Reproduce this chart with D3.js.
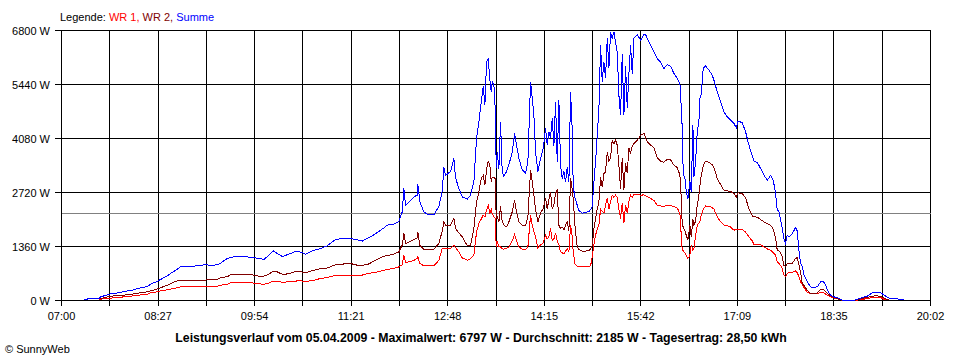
<!DOCTYPE html>
<html>
<head>
<meta charset="utf-8">
<script src="https://cdn.jsdelivr.net/npm/d3@7"></script>
<style>
  html, body { margin: 0; padding: 0; background: #ffffff; }
  svg { display: block; }
  text { font-family: "Liberation Sans", Arial, sans-serif; }
</style>
</head>
<body>
<div id="chart"></div>
<script>
// ---- Data (time in minutes since midnight, power in W) ----
const times = [439.8,454.2,455.1,464.1,470.4,477.6,482.1,491.1,497.1,500.1,506.1,509.1,515.1,518.1,522.6,527.1,533.1,538.8,547.8,556.8,560.1,563.1,569.1,572.1,575.1,587.1,591.6,597.6,602.1,606.6,610.5,614.1,618.6,624.6,630.6,635.1,639.6,645.6,653.1,659.1,666.6,674.1,680.1,686.1,690.6,695.1,701.1,710.1,713.1,719.1,723.6,726.6,728.1,729.6,732.6,737.1,740.1,740.7,742.5,746.1,749.1,755.1,759.6,762.6,764.1,765.6,770.1,773.1,774.6,777.6,780.6,785.1,788.1,791.1,793.5,795.6,797.7,799.5,801.0,802.5,804.0,805.5,806.7,807.6,809.1,810.3,811.2,812.1,813.6,815.1,816.6,818.1,820.5,822.6,825.6,827.7,829.5,831.6,834.6,837.6,839.7,842.1,843.6,845.1,846.6,848.7,851.1,853.5,855.6,857.1,858.6,860.1,861.6,863.1,864.6,866.1,867.6,869.1,870.6,872.1,873.6,875.1,876.6,878.1,879.6,880.5,882.0,882.6,884.1,885.6,888.6,891.6,894.6,896.1,897.6,899.1,900.6,902.1,903.6,905.1,906.6,908.1,909.6,911.1,912.6,914.1,915.6,917.1,918.6,920.1,921.6,923.1,924.6,926.1,927.6,929.1,930.6,932.1,933.6,935.1,938.1,941.1,944.1,945.6,947.1,950.1,953.1,956.1,959.1,962.1,965.1,968.1,971.1,974.1,976.5,977.7,978.6,979.5,981.0,982.2,983.7,985.5,986.7,988.2,989.1,990.6,992.1,993.6,994.5,995.7,997.5,999.6,1002.6,1005.6,1007.1,1010.1,1013.1,1016.1,1019.1,1022.1,1025.1,1027.2,1028.7,1032.6,1035.6,1038.6,1041.6,1043.1,1046.1,1049.1,1052.1,1055.1,1058.1,1060.5,1062.6,1064.1,1065.6,1067.1,1068.6,1070.1,1071.6,1073.1,1074.6,1077.6,1080.6,1082.1,1083.6,1085.1,1086.6,1088.1,1091.1,1094.1,1097.1,1100.1,1103.1,1105.5,1107.6,1109.1,1112.1,1115.1,1118.1,1122.6,1133.1,1139.1,1145.1,1149.6,1152.6,1157.1,1161.6,1164.6,1169.1,1178.1];

const wr1 = [null,20,33,60,76,95,108,140,159,190,217,240,270,285,310,343,353,353,355,358,360,385,410,443,443,443,443,420,410,440,490,480,461,470,490,494,480,500,554,580,630,630,630,630,640,680,700,763,780,810,846,900,1141,957,975,1010,1058,1100,932,872,872,872,1015,1310,1310,1300,1310,1393,1330,1225,1073,1015,1050,1141,1728,1940,2050,2149,2100,2275,2400,2190,2300,2190,2100,2066,1350,1500,1350,1350,1300,1292,1320,1350,1500,1663,1500,1350,1292,1292,1350,2149,1900,1728,1600,1310,1400,1450,1645,1550,1600,1814,1500,1550,1700,1500,1400,1225,1200,1180,1250,1300,1225,1897,1600,1225,932,900,870,847,847,847,860,870,1100,1400,1645,1800,1900,2300,2250,2200,2400,2569,2300,2500,2652,2600,2652,2600,2300,2066,2450,1950,2400,2200,2500,2650,2600,2678,2670,2652,2660,2640,2620,2569,2520,2400,2380,2370,2400,2390,2370,2330,2190,1645,1267,1250,1200,1141,1058,1141,1400,1267,1300,1645,1897,1950,2000,2150,2300,2383,2370,2340,2300,2106,1980,1897,1880,1850,1771,1790,1800,1790,1720,1602,1500,1410,1410,1400,1350,1300,1267,1200,1141,973,932,880,800,637,600,680,700,710,746,700,600,469,400,330,200,176,170,176,200,200,160,130,90,60,40,0,0,20,50,76,76,76,10,null,null,null];

const wr2 = [null,40,50,108,120,140,151,195,217,240,292,320,385,420,486,500,511,511,515,520,529,569,600,645,645,645,645,612,612,660,740,720,662,670,730,730,695,750,800,820,900,920,932,889,889,900,990,1116,1130,1170,1225,1393,1688,1436,1470,1530,1577,1713,1393,1292,1292,1292,1436,1750,1980,1900,1897,2066,1814,1700,1602,1380,1380,1814,2484,2736,3073,3150,2904,3300,3509,3408,2988,3100,3100,3073,2066,2100,1980,2368,1980,1900,1854,1980,2232,2527,2232,1980,1897,1897,2100,3282,3000,2652,2300,1980,2200,2317,2569,2300,2550,2736,2300,2400,2700,2778,1897,1814,1850,1780,1900,1980,1750,3073,2800,2569,1900,1728,1350,1280,1242,1242,1260,1300,1393,1800,2066,2300,2484,3100,2850,3200,3240,3743,3500,3600,4038,3950,4038,3912,3408,2821,3600,2778,3450,3200,3850,3700,3900,3950,4030,4156,4214,4100,4000,3912,3850,3592,3509,3480,3560,3540,3408,3350,3156,2569,1897,1850,1750,1645,1519,1900,1600,2050,1900,2000,2400,2650,2900,3150,3400,3509,3480,3420,3350,3073,2922,2778,2760,2750,2695,2600,2710,2700,2580,2317,2131,2110,2100,2040,1980,1930,1897,1800,1562,1267,1250,1200,1100,889,860,930,940,940,1058,1080,900,700,428,380,260,176,176,190,277,277,220,180,120,80,50,0,0,40,80,108,120,108,40,10,null,null];

const summe = [30,60,90,166,190,234,250,317,350,410,480,529,620,680,760,847,860,864,897,889,900,940,1058,1080,1098,1098,1085,1060,1033,1141,1250,1184,1108,1166,1234,1220,1166,1250,1310,1376,1537,1562,1560,1530,1494,1562,1653,1829,1897,1922,1990,2232,2821,2400,2484,2610,2652,2922,2484,2232,2174,2156,2368,2746,3350,3149,3250,3584,3088,2821,2610,2552,2652,2988,4081,4500,5003,5390,4920,6010,6078,5549,5255,5507,5423,4836,3325,3743,3325,4500,3240,3124,3250,3416,3743,4207,3912,3585,3290,3207,3491,5507,5088,4668,3743,3240,3577,3829,4333,3912,4249,4100,4585,3900,5003,3491,5046,3408,3073,3250,2988,3350,2988,5255,4300,2872,2600,2535,2400,2267,2199,2220,2240,2290,2358,2980,3500,4146,4811,6431,5507,6010,5600,6600,5844,6766,6600,6766,6500,6262,5171,4668,6200,4668,5900,4850,5700,6431,5700,6600,6700,6557,6700,6700,6600,6431,6262,6096,6000,5844,5945,5900,5718,5592,5466,4877,4333,3156,3100,2736,2569,3000,2736,4416,3100,3500,4249,4500,5088,5200,5844,5910,5800,5675,5550,5255,5003,4751,4625,4540,4459,4350,4517,4480,4249,3912,3650,3509,3480,3325,3156,3030,3150,3030,2695,2275,2250,2023,1814,1562,1436,1645,1600,1680,1839,1750,1267,932,860,650,469,343,330,343,469,480,400,259,133,92,70,10,0,60,110,193,210,193,110,60,50,20];

const yTicks = [0, 1360, 2720, 4080, 5440, 6800];
const xTickLabels = ["07:00","08:27","09:54","11:21","12:48","14:15","15:42","17:09","18:35","20:02"];
const average = 2185;
const legendItems = [
  {label: "WR 1,", color: "#ff0000"},
  {label: " WR 2,", color: "#800000"},
  {label: " Summe", color: "#0000ff"}
];
const titleText = "Leistungsverlauf vom 05.04.2009 - Maximalwert: 6797 W - Durchschnitt: 2185 W - Tagesertrag: 28,50 kWh";

// ---- Layout ----
const W = 960, H = 360;
const svg = d3.select("#chart").append("svg").attr("width", W).attr("height", H);
svg.append("rect").attr("width", W).attr("height", H).attr("fill", "#fff");

const tStart = 420, tEnd = 1202;
const x = d3.scaleLinear().domain([tStart, tEnd]).range([61.5, 930.5]);
const y = d3.scaleLinear().domain([0, 6800]).range([300.5, 30.5]);

// vertical grid lines (18 intervals)
const nInt = 18;
const gridTimes = d3.range(nInt + 1).map(k => tStart + k * (tEnd - tStart) / nInt);
svg.append("g").selectAll("line").data(gridTimes).join("line")
  .attr("x1", d => Math.round(x(d) - 0.5) + 0.5).attr("x2", d => Math.round(x(d) - 0.5) + 0.5)
  .attr("y1", y(6800)).attr("y2", 305.5)
  .attr("stroke", "#000").attr("stroke-width", 1).attr("shape-rendering", "crispEdges");

// horizontal grid lines
svg.append("g").selectAll("line").data(yTicks).join("line")
  .attr("x1", 55).attr("x2", 931)
  .attr("y1", d => Math.round(y(d) - 0.5) + 0.5).attr("y2", d => Math.round(y(d) - 0.5) + 0.5)
  .attr("stroke", "#000").attr("stroke-width", 1).attr("shape-rendering", "crispEdges");

// y labels
svg.append("g").selectAll("text").data(yTicks).join("text")
  .attr("x", 50).attr("y", d => y(d) + 4)
  .attr("text-anchor", "end").attr("font-size", 11).attr("fill", "#000")
  .text(d => d + " W");

// x labels
const labelTimes = gridTimes.filter((d, i) => i % 2 === 0);
svg.append("g").selectAll("text").data(labelTimes).join("text")
  .attr("x", d => x(d)).attr("y", 320)
  .attr("text-anchor", "middle").attr("font-size", 11).attr("fill", "#000")
  .text((d, i) => xTickLabels[i]);

// average line
svg.append("line")
  .attr("x1", x(tStart)).attr("x2", x(tEnd))
  .attr("y1", Math.round(y(average) - 0.5) + 0.5).attr("y2", Math.round(y(average) - 0.5) + 0.5)
  .attr("stroke", "#808080").attr("stroke-width", 1).attr("shape-rendering", "crispEdges");

// series
const series = [
  {values: wr1, color: "#ff0000"},
  {values: wr2, color: "#800000"},
  {values: summe, color: "#0000ff"}
];
const line = d3.line()
  .defined(d => d[1] != null)
  .x(d => x(d[0]))
  .y(d => y(d[1]));
series.forEach(s => {
  svg.append("path")
    .datum(times.map((t, i) => [t, s.values[i]]))
    .attr("d", line)
    .attr("fill", "none").attr("stroke", s.color).attr("stroke-width", 1)
    .attr("shape-rendering", "crispEdges");
});

// legend
const leg = svg.append("text").attr("x", 60).attr("y", 21).attr("font-size", 11);
leg.append("tspan").attr("fill", "#000").text("Legende: ");
legendItems.forEach(it => leg.append("tspan").attr("fill", it.color).text(it.label));

// title
svg.append("text").attr("x", 481).attr("y", 342)
  .attr("text-anchor", "middle").attr("font-size", 12.3).attr("font-weight", "bold")
  .attr("fill", "#000").text(titleText);

// copyright
svg.append("text").attr("x", 5).attr("y", 353).attr("font-size", 11).attr("fill", "#000")
  .text("© SunnyWeb");
</script>
</body>
</html>
